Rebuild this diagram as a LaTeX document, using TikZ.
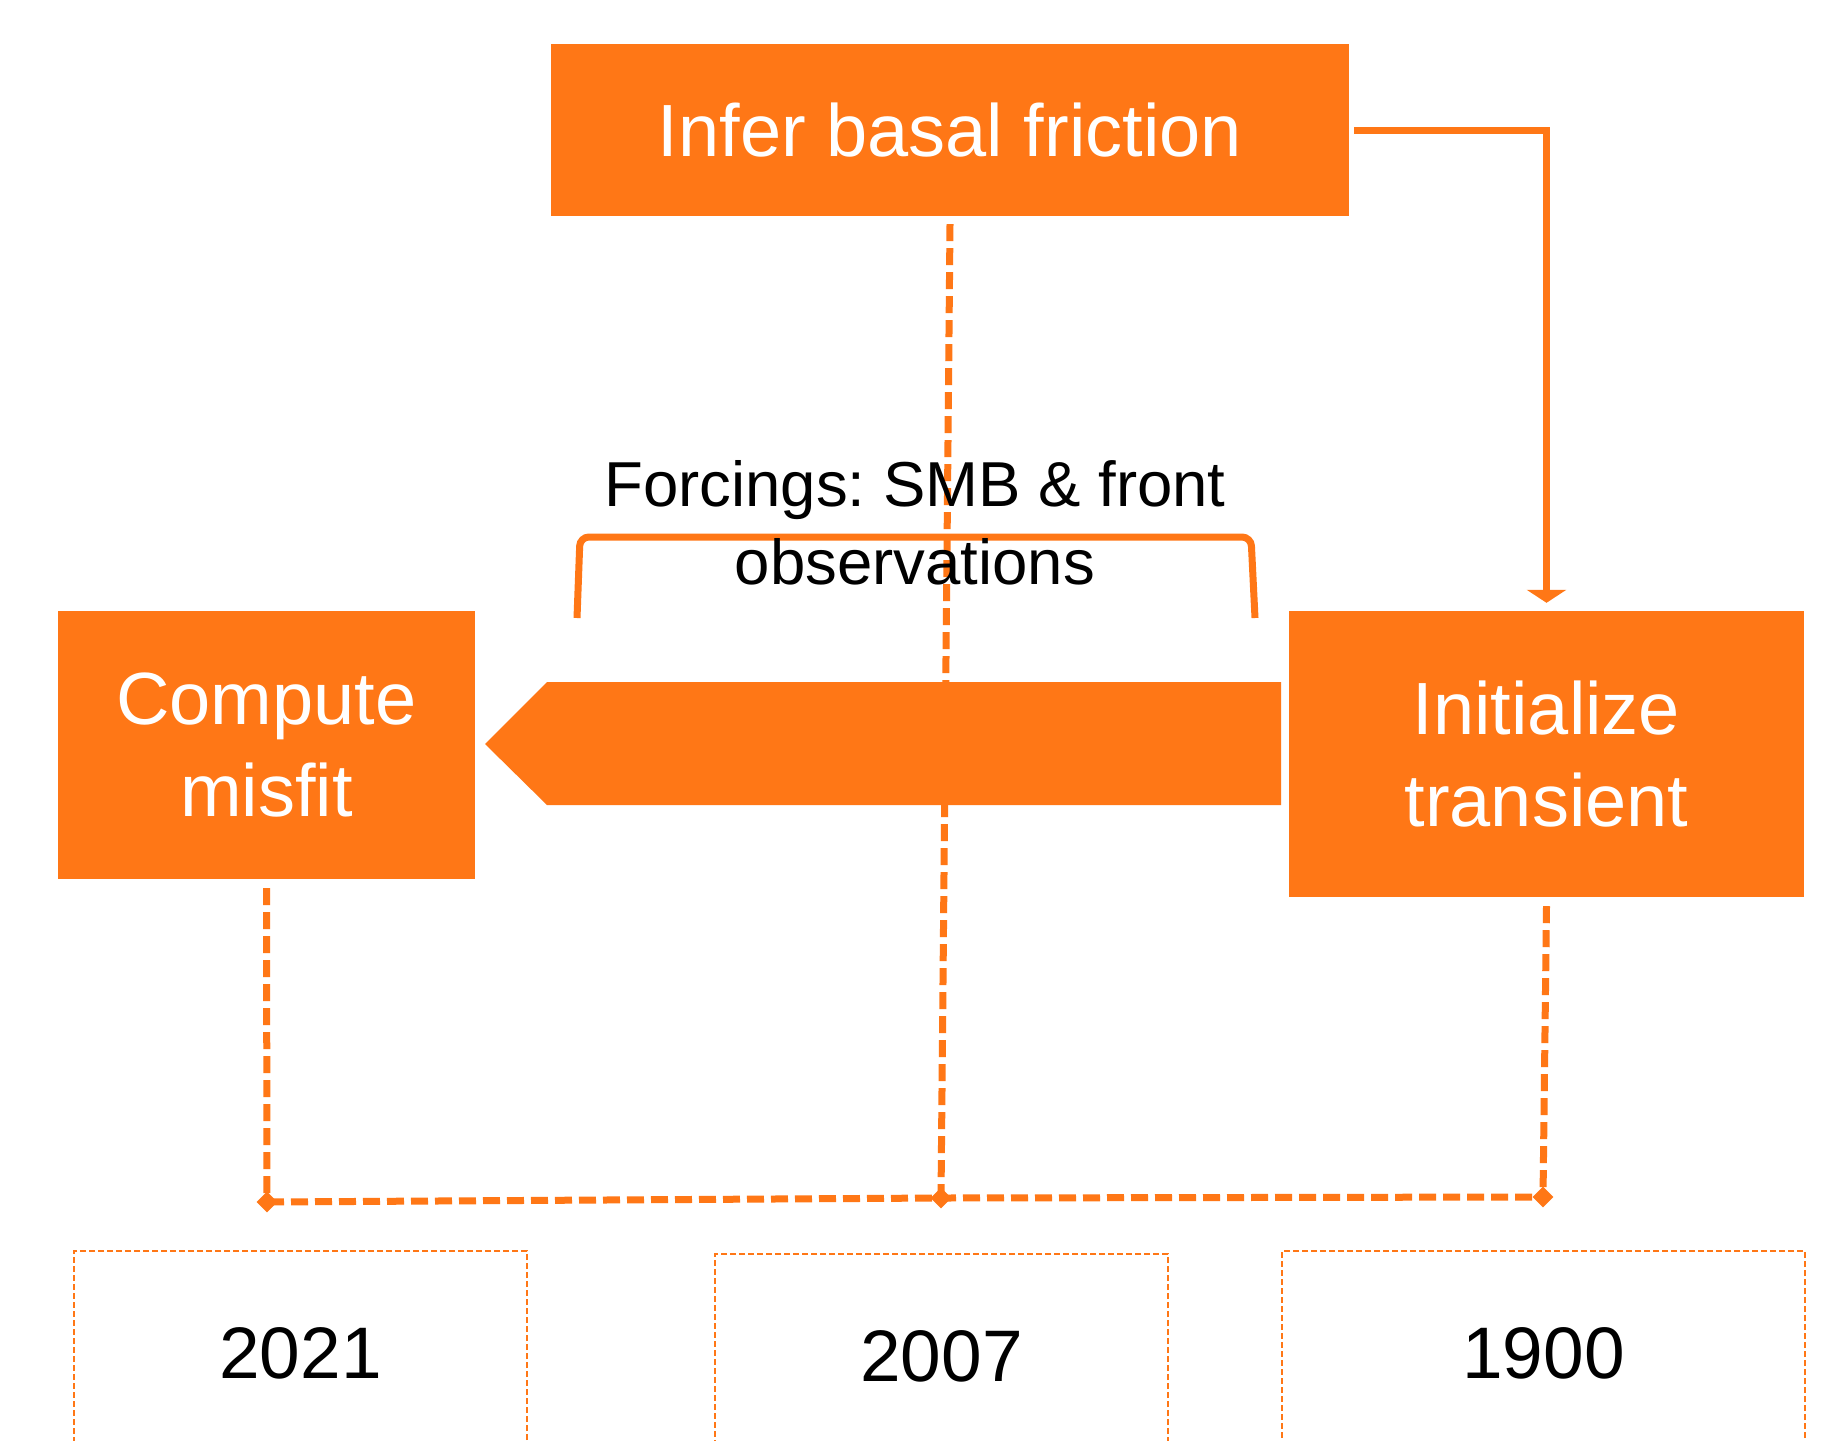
\documentclass[tikz,border=0pt]{standalone}
\usepackage{fontspec}
\setmainfont{Liberation Sans}
\usetikzlibrary{arrows.meta,shapes.geometric}
\definecolor{org}{RGB}{255,119,22}
\frenchspacing
\begin{document}
\begin{tikzpicture}[x=1pt,y=-1pt,
  box/.style={fill=org, draw=none, text=white, align=center, inner sep=0pt, font=\fontsize{74}{92}\selectfont},
  yearbox/.style={draw=org, line width=1.8pt, dash pattern=on 6pt off 3pt, inner sep=0pt, font=\fontsize{73}{88}\selectfont},
  conn/.style={draw=org, line width=7pt, dash pattern=on 17pt off 7pt},
  dia/.style={diamond, fill=org, inner sep=0pt, minimum size=21pt},
  solidline/.style={draw=org, line width=7pt}]
\clip (0,0) rectangle (1833,1440);
\fill[white] (0,0) rectangle (1833,1440);

% coordinates of connector joints
\coordinate (d1) at (267,1202);
\coordinate (d2) at (941,1198);
\coordinate (d3) at (1543,1197);

% boxes
\node[box, minimum width=798pt, minimum height=172pt] (infer) at (950,130) {Infer basal friction};
\node[box, minimum width=417pt, minimum height=268pt] (compute) at (266.5,745) {Compute\\misfit};
\node[box, minimum width=515pt, minimum height=286pt] (init) at (1546.5,754) {Initialize\\transient};

% dashed connectors (behind the arrow shape)
\draw[conn] ([yshift=-8pt]infer.south) -- (d2);
\draw[conn] ([yshift=-9pt]compute.south) -- (d1);
\draw[conn] ([yshift=-9pt]init.south) -- (d3);
\draw[conn] (d1) -- (d2) -- (d3);
\node[dia] (m1) at (d1) {};
\node[dia] (m2) at (d2) {};
\node[dia] (m3) at (d3) {};

% big left-pointing arrow shape
\fill[org] (485,744) -- (547,682) -- (1281,682) -- (1281,805) -- (547,805) -- cycle;

% bracket
\draw[solidline, rounded corners=9pt] (577,618) -- (580,537) -- (1251,537) -- (1255,618);

% forcings label
\node[align=center, inner sep=0pt, font=\fontsize{63.5}{78}\selectfont] (forc) at (915,523) {Forcings: SMB \& front\\observations};

% solid arrow from infer to init
\draw[solidline, -{Triangle[width=39pt,length=13pt]}, shorten <=5pt, shorten >=8pt] (infer.east) -| (init.north);

% year boxes
\node[yearbox, minimum width=453pt, minimum height=204pt] (y1) at (300.5,1353) {2021};
\node[yearbox, minimum width=453pt, minimum height=204pt] (y2) at (941.5,1356) {2007};
\node[yearbox, minimum width=523pt, minimum height=204pt] (y3) at (1543.5,1353) {1900};
\end{tikzpicture}
\end{document}
